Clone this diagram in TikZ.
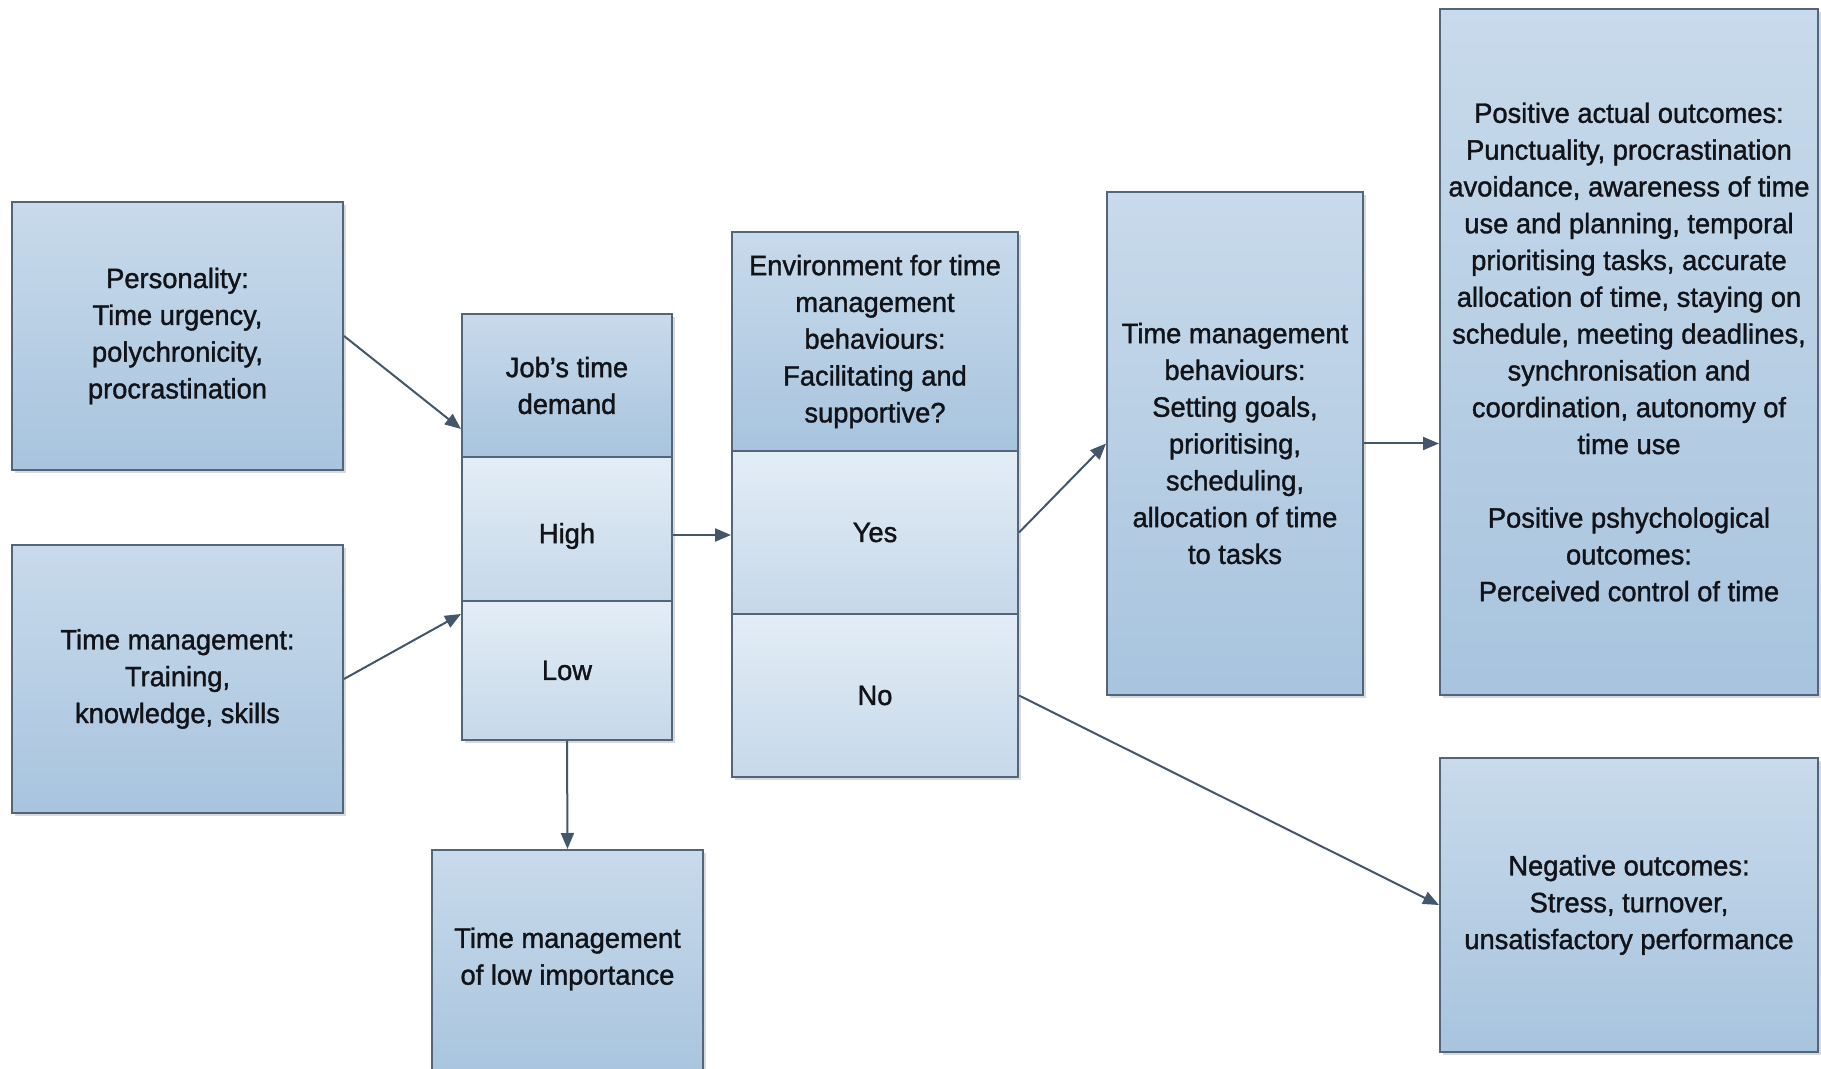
\documentclass[tikz,border=0pt]{standalone}
\usepackage{fontspec}
\setmainfont{Liberation Sans}[FakeBold=1.3, FakeStretch=0.975]
\usetikzlibrary{arrows.meta,shadows}

\definecolor{boxtop}{HTML}{C8DAEB}
\definecolor{boxbot}{HTML}{A8C4DE}
\definecolor{celltop}{HTML}{E3EDF6}
\definecolor{cellbot}{HTML}{C6D8E9}
\definecolor{boxline}{HTML}{52657A}
\definecolor{linecol}{HTML}{44566A}
\definecolor{inktext}{HTML}{111318}

\tikzset{
  txt/.style={align=center, inner sep=0pt,
    font=\fontsize{14pt}{18.4pt}\selectfont, text=inktext},
  base/.style={txt, draw=boxline, line width=1pt,
    drop shadow={shadow xshift=1.5pt, shadow yshift=-1.5pt, opacity=0.15, fill=black}},
  bw/.style={minimum width=#1*0.5pt},
  bh/.style={minimum height=#1*0.5pt},
  dark/.style={base, top color=boxtop, bottom color=boxbot},
  light/.style={base, top color=celltop, bottom color=cellbot},
  conn/.style={draw=linecol, line width=1pt, -{Triangle[length=8pt,width=6.5pt]}},
}

\begin{document}
\begin{tikzpicture}[x=0.5pt,y=-0.5pt]
  \useasboundingbox[fill=white] (0,0) rectangle (1821,1069);

  % left-hand inputs
  \node[dark, bw=331, bh=268] (pers) at (177.5,336)
    {Personality:\\Time urgency,\\polychronicity,\\procrastination};
  \node[dark, bw=331, bh=268] (tm) at (177.5,679)
    {Time management:\\Training,\\knowledge, skills};

  % job's time demand, split into three cells
  \node[dark, bw=210, bh=143] (jobhead) at (567,385.5) {Job's time\\demand};
  \node[light, bw=210, bh=144,
        label={[txt, yshift=-3.5pt]center:High}] (high) at (567,529) {};
  \node[light, bw=210, bh=139] (low) at (567,670.5) {Low};

  % environment, split into three cells
  \node[dark, bw=286, bh=219] (envhead) at (875,341.5)
    {Environment for time\\management\\behaviours:\\Facilitating and\\supportive?};
  \node[light, bw=286, bh=163] (yes) at (875,532.5) {Yes};
  \node[light, bw=286, bh=163] (no) at (875,695.5) {No};

  % behaviours and outcomes
  \node[dark, bw=256, bh=503] (tmb) at (1235,443.5)
    {Time management\\behaviours:\\Setting goals,\\prioritising,\\scheduling,\\allocation of time\\to tasks};
  \node[dark, bw=378, bh=686] (pos) at (1629,352)
    {Positive actual outcomes:\\Punctuality, procrastination\\avoidance, awareness of time\\use and planning, temporal\\prioritising tasks, accurate\\allocation of time, staying on\\schedule, meeting deadlines,\\synchronisation and\\coordination, autonomy of\\time use\\[18.4pt]Positive pshychological\\outcomes:\\Perceived control of time};
  \node[dark, bw=378, bh=294] (neg) at (1629,905)
    {Negative outcomes:\\Stress, turnover,\\unsatisfactory performance};
  \node[dark, bw=271, bh=230,
        label={[txt, yshift=3pt]center:Time management\\of low importance}] (lowimp) at (567.5,965) {};

  % connectors
  \draw[conn] (pers.east) -- ([yshift=14.5pt]jobhead.south west);
  \draw[conn] (tm.east) -- ([yshift=-7pt]low.north west);
  \draw[conn] ([yshift=-3pt]high.east) -- ([yshift=-3pt]high.east -| yes.west);
  \draw[conn] (yes.east) -- (tmb.west);
  \draw[conn] (tmb.east) -- (tmb.east -| pos.west);
  \draw[conn] (no.east) -- (neg.west);
  \draw[conn] (low.south) -- (lowimp.north);
\end{tikzpicture}
\end{document}
